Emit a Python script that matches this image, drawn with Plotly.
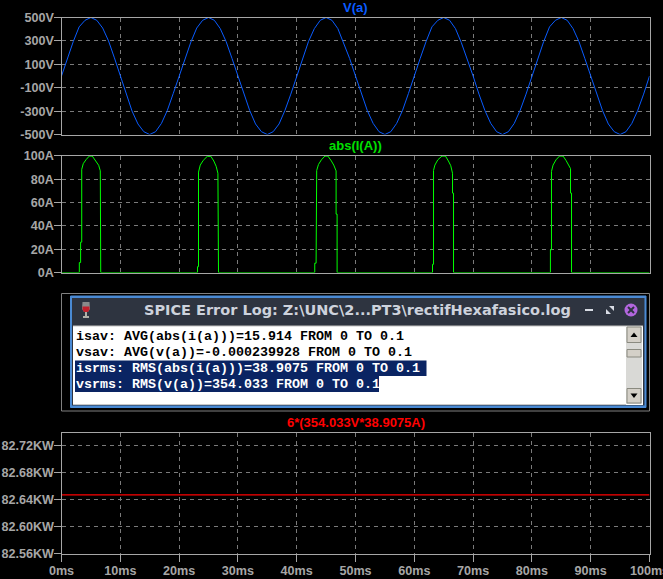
import plotly.graph_objects as go

W, H = 663, 579
FIG_W = 700  # the page is wider than the window so the last tick label runs off the edge, as in the reference

# ---- data ----
time_ms = list(range(101))
v_a = [0, 155, 294, 420, 476, 500, 476, 410, 300, 155, 0,
       -155, -300, -410, -476, -500, -476, -405, -294, -150, 0,
       155, 290, 410, 476, 500, 476, 405, 294, 150, 5,
       -150, -294, -410, -476, -500, -476, -410, -294, -155, 0,
       155, 294, 405, 476, 500, 476, 405, 285, 150, 0,
       -155, -294, -405, -476, -500, -476, -405, -294, -150, 5,
       150, 294, 420, 476, 500, 476, 405, 285, 150, 0,
       -155, -294, -405, -476, -500, -476, -405, -294, -155, 0,
       155, 294, 420, 476, 500, 476, 405, 294, 150, 0,
       -155, -294, -410, -476, -500, -476, -405, -294, -155, 0]

i_t = [0, 3.03, 3.03, 3.25, 3.25, 3.44, 3.44, 3.7, 4.17, 4.73, 5.24, 5.87, 6.32, 6.6, 6.67,
       23.13, 23.13, 23.3, 23.3, 23.6, 24.1, 24.8, 25.4, 25.9, 26.3, 26.6, 26.7,
       43.07, 43.07, 43.3, 43.3, 43.4, 43.4, 43.7, 44.2, 44.8, 45.3, 45.9, 46.3, 46.7, 46.7, 46.87, 46.87,
       63.1, 63.1, 63.27, 63.27, 63.5, 64.0, 64.7, 65.3, 65.8, 66.2, 66.5, 66.5, 66.67, 66.67,
       83.15, 83.15, 83.33, 83.33, 83.6, 84.1, 84.7, 85.3, 85.8, 86.2, 86.57, 86.57, 86.74, 86.74, 100]
i_a = [0, 0, 8.5, 8.5, 26, 26, 88.3, 93.2, 96.6, 99.7, 99.7, 95.4, 91.8, 87.1, 0,
       0, 5, 5, 86, 92, 96, 99.5, 99.5, 95.5, 91, 85, 0,
       0, 8, 8, 25, 25, 87.4, 92.5, 96.5, 99.7, 99.7, 95.5, 92, 87, 50, 50, 0,
       0, 7, 7, 87.4, 92, 96.5, 99.7, 99.7, 95.5, 91.5, 85, 68, 68, 0,
       0, 19.4, 19.4, 86.6, 92, 96.5, 99.7, 99.7, 96, 92, 89, 68, 68, 0, 0]

p_t = [0, 100]
p_kw = [82.6469, 82.6469]

x_ticks = list(range(0, 101, 10))
x_labels = [f"{t}ms" for t in x_ticks]
v_ticks = [-500, -300, -100, 100, 300, 500]
v_labels = ["-500V", "-300V", "-100V", "100V", "300V", "500V"]
i_ticks = [0, 20, 40, 60, 80, 100]
i_labels = ["0A", "20A", "40A", "60A", "80A", "100A"]
p_ticks = [82.56, 82.60, 82.64, 82.68, 82.72]
p_labels = ["82.56KW", "82.60KW", "82.64KW", "82.68KW", "82.72KW"]

log_lines = ["isav: AVG(abs(i(a)))=15.914 FROM 0 TO 0.1",
             "vsav: AVG(v(a))=-0.000239928 FROM 0 TO 0.1",
             "isrms: RMS(abs(i(a)))=38.9075 FROM 0 TO 0.1",
             "vsrms: RMS(v(a))=354.033 FROM 0 TO 0.1"]
log_title = "SPICE Error Log: Z:\\UNC\\2...PT3\\rectifHexafasico.log"

# ---- style ----
GREY = "#a6a6a6"
GRID = "#7a7a7a"
X0, X1 = 61.5, 649.5
TICK_FONT = dict(family="Liberation Sans", size=12.6, color=GREY, weight="bold")


def px(x):
    return x / FIG_W


def py(y):
    return 1 - y / H


def rect(x0, y0, x1, y1, fill, line=None, lw=1):
    return dict(type="rect", xref="paper", yref="paper", x0=px(x0), x1=px(x1), y0=py(y0), y1=py(y1),
                fillcolor=fill, line=dict(color=line or fill, width=lw if line else 0), layer="above")


def seg(x0, y0, x1, y1, color, lw=1.5):
    return dict(type="line", xref="paper", yref="paper", x0=px(x0), x1=px(x1), y0=py(y0), y1=py(y1),
                line=dict(color=color, width=lw), layer="above")


def poly(points, fill):
    d = "M " + " L ".join(f"{px(a):.5f},{py(b):.5f}" for a, b in points) + " Z"
    return dict(type="path", xref="paper", yref="paper", path=d, fillcolor=fill, line=dict(width=0), layer="above")


fig = go.Figure()
fig.add_trace(go.Scatter(x=time_ms, y=v_a, mode="lines", line=dict(color="#0a5cff", width=1), xaxis="x", yaxis="y"))
fig.add_trace(go.Scatter(x=i_t, y=i_a, mode="lines", line=dict(color="#00ff00", width=1), xaxis="x2", yaxis="y2"))
fig.add_trace(go.Scatter(x=p_t, y=p_kw, mode="lines", line=dict(color="#ff0000", width=1.3), xaxis="x3", yaxis="y3"))


def xaxis(anchor, labels):
    return dict(domain=[px(X0), px(X1)], range=[0, 100], anchor=anchor, tickmode="array", tickvals=x_ticks,
                ticktext=x_labels if labels else [""] * len(x_ticks), automargin=False,
                ticks="outside" if labels else "", ticklen=7, tickcolor=GREY, showline=True, linecolor=GREY,
                linewidth=1, mirror=True, showgrid=True, gridcolor=GRID, griddash="4px,4px", gridwidth=1,
                zeroline=False, tickfont=TICK_FONT, ticklabelstandoff=-2)


def yaxis(anchor, top, bot, rng, vals, text):
    return dict(domain=[py(bot), py(top)], range=rng, anchor=anchor, tickmode="array", tickvals=vals, ticktext=text,
                automargin=False, ticks="outside", ticklen=7, tickcolor=GREY, showline=True, linecolor=GREY,
                linewidth=1, mirror=True, showgrid=True, gridcolor=GRID, griddash="4px,4px", gridwidth=1,
                zeroline=False, tickfont=TICK_FONT, ticklabelstandoff=-3)


shapes = [
    rect(61.5, 293.5, 649.5, 411, "#000000", "#808080"),
    rect(70.5, 296, 646, 407.5, "#4a8ad4", "#4a8ad4"),
    rect(72, 298, 644.5, 405.5, "#2e3440"),
    rect(73, 326, 643, 405, "#ffffff"),
    seg(73, 325.8, 643, 325.8, "#9a9a9a", 1),
    seg(73, 404.5, 626, 404.5, "#c8c8c8", 1),
    rect(75, 360.5, 426.5, 376, "#0a2463"),
    rect(75, 376, 379, 392, "#0a2463"),
    # scrollbar
    rect(626, 326.5, 642, 404, "#d9d9d6"),
    rect(627, 327, 641, 342.5, "#d4d0c8", "#8a8a80"),
    poly([(630.5, 337), (637.5, 337), (634, 332.5)], "#000000"),
    rect(627, 349.5, 641, 357, "#d4d0c8", "#8a8a80"),
    rect(627, 388.5, 641, 403, "#d4d0c8", "#8a8a80"),
    poly([(630.5, 393.5), (637.5, 393.5), (634, 398)], "#000000"),
    # window buttons
    seg(585, 310, 593, 310, "#d8dce4", 2),
    poly([(606, 314), (606, 309), (611, 314)], "#d8dce4"),
    poly([(614, 306), (614, 311), (609, 306)], "#d8dce4"),
    dict(type="circle", xref="paper", yref="paper", x0=px(624.5), x1=px(637.5), y0=py(316.5), y1=py(303.5),
         fillcolor="#b266dd", line=dict(width=0), layer="above"),
    seg(628, 307, 634, 313, "#2e3440", 2),
    seg(634, 307, 628, 313, "#2e3440", 2),
    # wine glass icon
    poly([(82.5, 302), (89.5, 302), (90, 309), (88, 312), (84, 312), (82, 309)], "#8a8a8a"),
    poly([(82.5, 306.5), (89.5, 306.5), (89.5, 309.5), (88, 312), (84, 312), (82.5, 309.5)], "#c21f2b"),
    rect(85, 312, 87, 316, "#b0b0a8"),
    rect(83, 316, 89, 318, "#b0b0a8"),
]


def note(x, y, text, color, size, family="Liberation Sans", anchor="center"):
    return dict(xref="paper", yref="paper", x=px(x), y=py(y), text=text, showarrow=False, xanchor=anchor,
                yanchor="middle", font=dict(family=family, size=size, color=color, weight="bold"), borderpad=0)


annotations = [
    note(355, 8, "V(a)", "#0a5cff", 13),
    note(355.5, 145.5, "abs(I(A))", "#00e000", 13),
    note(355.5, 422.5, "6*(354.033V*38.9075A)", "#ff0000", 13),
    note(357, 310, log_title, "#cdd2dc", 14.5, "DejaVu Sans"),
]
for row, line in enumerate(log_lines):
    annotations.append(note(75, 336 + 16 * row, line, "#000000" if row < 2 else "#ffffff", 13.33,
                            "Liberation Mono", "left"))

fig.update_layout(
    width=FIG_W, height=H, autosize=False, showlegend=False,
    margin=dict(l=0, r=0, t=0, b=0),
    paper_bgcolor="#000000", plot_bgcolor="#000000",
    xaxis=xaxis("y", False), yaxis=yaxis("x", 17.5, 134.5, [-500, 500], v_ticks, v_labels),
    xaxis2=xaxis("y2", False), yaxis2=yaxis("x2", 155.5, 272.5, [0, 100.2], i_ticks, i_labels),
    xaxis3=xaxis("y3", True), yaxis3=yaxis("x3", 432.5, 553.5, [82.56, 82.7393], p_ticks, p_labels),
    shapes=shapes, annotations=annotations,
)

fig.write_html("out.html", config=dict(displayModeBar=False),
               post_script="document.documentElement.style.overflow='hidden';document.body.style.margin='0';document.body.style.background='#000';document.body.style.overflow='hidden';")
